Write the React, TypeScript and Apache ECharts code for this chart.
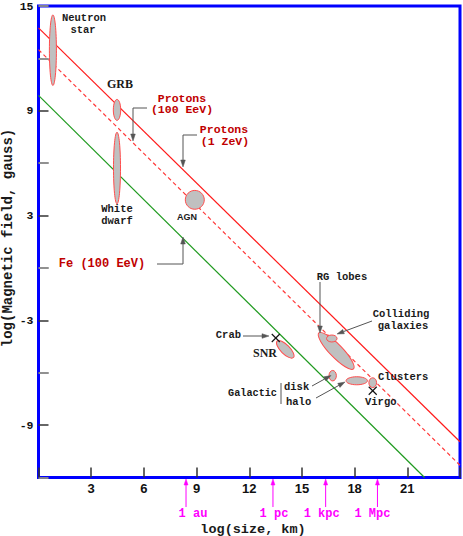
import React, { useEffect, useRef } from "react";
import * as echarts from "echarts";

// ---- data ----
const xTickValues = [3, 6, 9, 12, 15, 18, 21];
const yLabelValues = [15, 9, 3, -3, -9];
// straight acceleration limits: [x0, y0], [x1, y1] in (log size km, log B gauss)
const protons1ZeV = [[0, 13.75], [24, -9.95]];
const protons100EeV = [[0, 12.5], [24, -11.3]];
const iron100EeV = [[0, 9.88], [21.98, -12]];
// objects: [x, y, semiX, semiY, tiltDeg]
const objectNames = ["Neutron star", "GRB", "White dwarf", "AGN", "SNR", "RG lobes", "Colliding galaxies", "Galactic disk", "Galactic halo", "Clusters"];
const objectX = [0.82, 4.47, 4.47, 8.9, 14.05, 16.95, 16.7, 16.75, 18.12, 19.03];
const objectY = [12.47, 9.05, 5.72, 3.9, -4.66, -4.75, -4.04, -6.17, -6.46, -6.57];
const objectSemiX = [0.2, 0.21, 0.2, 0.54, 0.66, 1.42, 0.3, 0.21, 0.61, 0.22];
const objectSemiY = [2.02, 0.6, 2.05, 0.54, 0.26, 0.37, 0.2, 0.3, 0.23, 0.28];
const objectTilt = [0, 0, 0, 0, -45, -46, 0, 0, 0, 0];
// crosses: Crab, Virgo
const crossNames = ["Crab", "Virgo"];
const crossX = [13.51, 19.03];
const crossY = [-4.01, -7.03];
// distance marks on size axis
const distanceLabels = ["1 au", "1 pc", "1 kpc", "1 Mpc"];
const distanceValues = [8.4, 13.35, 16.35, 19.3];

const MONO = '"Liberation Mono", "DejaVu Sans Mono", monospace';
const SERIF = '"Liberation Serif", "DejaVu Serif", serif';
const SANS = '"Liberation Sans", "DejaVu Sans", sans-serif';
const RED_TEXT = "#c00000";
const GRAY = "#555555";
const MAGENTA = "#ff00ff";

function txt(text: string, x: number, y: number, o: any = {}) {
  return {
    type: "text",
    x,
    y,
    rotation: o.rotation || 0,
    z: 100,
    style: {
      text,
      fill: o.fill || "#1a1a1a",
      font: `${o.weight || "bold"} ${o.size || 10.5}px ${o.family || MONO}`,
      align: o.align || "center",
      textAlign: o.align || "center",
      verticalAlign: "middle",
      textVerticalAlign: "middle",
    },
  };
}

function arrow(points: number[][], color = GRAY, head = 7, half = 2.3) {
  const n = points.length;
  const tip = points[n - 1];
  const prev = points[n - 2];
  const dx = tip[0] - prev[0];
  const dy = tip[1] - prev[1];
  const L = Math.hypot(dx, dy);
  const ux = dx / L, uy = dy / L;
  const bx = tip[0] - ux * head, by = tip[1] - uy * head;
  const pts = points.slice(0, n - 1).concat([[bx, by]]);
  return [
    { type: "polyline", z: 100, shape: { points: pts }, style: { stroke: color, lineWidth: 1, fill: null } },
    {
      type: "polygon",
      z: 100,
      shape: { points: [tip, [bx - uy * half, by + ux * half], [bx + uy * half, by - ux * half]] },
      style: { fill: color, stroke: color, lineWidth: 0.5 },
    },
  ];
}

export default function App() {
  const ref = useRef<HTMLDivElement>(null);
  useEffect(() => {
    document.body.style.margin = "0";
    const chart = echarts.init(ref.current!, null, { renderer: "svg" });
    const objData = objectNames.map((n, i) => [objectX[i], objectY[i], objectSemiX[i], objectSemiY[i], objectTilt[i], n]);
    const crossData = crossNames.map((n, i) => [crossX[i], crossY[i], n]);
    const option: any = {
      animation: false,
      grid: { left: 38.5, right: 2.5, top: 3, bottom: 58.5, show: true, borderColor: "#0000ff", borderWidth: 3, backgroundColor: "#fff" },
      xAxis: {
        type: "value",
        min: 0,
        max: 24,
        interval: 3,
        axisLine: { show: false, onZero: false },
        axisTick: { show: true, inside: true, length: 10, lineStyle: { color: "#333", width: 1.5 } },
        splitLine: { show: false },
        axisLabel: {
          margin: 4,
          color: "#111",
          fontFamily: SANS,
          fontWeight: "bold",
          fontSize: 13,
          formatter: (v: number) => (xTickValues.includes(v) ? String(v) : ""),
        },
      },
      yAxis: [
        {
          type: "value",
          min: -12,
          max: 15,
          interval: 3,
          axisLine: { show: false, onZero: false },
          axisTick: { show: true, inside: true, length: 10, lineStyle: { color: "#333", width: 1.5 } },
          splitLine: { show: false },
          axisLabel: {
            margin: 5,
            color: "#111",
            fontFamily: MONO,
            fontWeight: "bold",
            fontSize: 11.5,
            formatter: (v: number) => (yLabelValues.includes(v) ? (v < 0 ? "-" + Math.abs(v) : String(v)) : ""),
          },
        },
        {
          type: "value",
          min: -12,
          max: 15,
          interval: 6,
          position: "left",
          axisLine: { show: false, onZero: false },
          axisTick: { show: true, inside: true, length: 10, lineStyle: { color: "#a0a0a0", width: 1.5 } },
          splitLine: { show: false },
          axisLabel: { show: false },
        },
      ],
      series: [
        { type: "line", data: protons1ZeV, showSymbol: false, lineStyle: { color: "#ff1a1a", width: 1.2 }, z: 2 },
        { type: "line", data: protons100EeV, showSymbol: false, lineStyle: { color: "#ff3a3a", width: 1.2, type: [4, 3] }, z: 2 },
        { type: "line", data: iron100EeV, showSymbol: false, lineStyle: { color: "#1f9a1f", width: 1.2 }, z: 2 },
        {
          type: "custom",
          z: 5,
          data: objData,
          renderItem: (params: any, api: any) => {
            const c = api.coord([api.value(0), api.value(1)]);
            const sx = api.size([1, 1]);
            const rx = api.value(2) * sx[0];
            const ry = api.value(3) * sx[1];
            return {
              type: "ellipse",
              x: c[0],
              y: c[1],
              rotation: (api.value(4) * Math.PI) / 180,
              shape: { cx: 0, cy: 0, rx, ry },
              style: { fill: "#c0c0c0", stroke: "#ff4d4d", lineWidth: 1 },
            };
          },
        },
        {
          type: "custom",
          z: 6,
          data: crossData,
          renderItem: (params: any, api: any) => {
            const c = api.coord([api.value(0), api.value(1)]);
            const h = 4;
            return {
              type: "group",
              children: [
                { type: "line", shape: { x1: c[0] - h, y1: c[1] - h, x2: c[0] + h, y2: c[1] + h }, style: { stroke: "#111", lineWidth: 1.2 } },
                { type: "line", shape: { x1: c[0] + h, y1: c[1] - h, x2: c[0] - h, y2: c[1] + h }, style: { stroke: "#111", lineWidth: 1.2 } },
              ],
            };
          },
        },
      ],
    };
    chart.setOption(option);

    const graphics: any[] = [];
    // object & line labels
    graphics.push(txt("Neutron", 84, 18));
    graphics.push(txt("star", 83, 29.5));
    graphics.push(txt("GRB", 120, 84, { family: SERIF, size: 12 }));
    graphics.push(txt("Protons", 182, 98, { fill: RED_TEXT, size: 11.5 }));
    graphics.push(txt("(100 EeV)", 182, 109.5, { fill: RED_TEXT, size: 11.5 }));
    graphics.push(txt("Protons", 224, 129.5, { fill: RED_TEXT, size: 11.5 }));
    graphics.push(txt("(1 ZeV)", 225, 141, { fill: RED_TEXT, size: 11.5 }));
    graphics.push(txt("White", 117, 209));
    graphics.push(txt("dwarf", 117, 221));
    graphics.push(txt("AGN", 187, 217, { family: SANS, size: 9 }));
    graphics.push(txt("Fe (100 EeV)", 102, 264, { fill: RED_TEXT, size: 12 }));
    graphics.push(txt("Crab", 241, 335, { align: "right" }));
    graphics.push(txt("SNR", 265, 353, { family: SERIF, size: 12 }));
    graphics.push(txt("RG lobes", 342, 277));
    graphics.push(txt("Colliding", 401, 314));
    graphics.push(txt("galaxies", 403, 325.5));
    graphics.push(txt("Galactic", 277, 393, { align: "right", size: 10.2 }));
    graphics.push(txt("disk", 284, 387, { align: "left" }));
    graphics.push(txt("halo", 286, 402, { align: "left" }));
    graphics.push(txt("Clusters", 378, 377, { align: "left" }));
    graphics.push(txt("Virgo", 365, 402, { align: "left" }));
    graphics.push({ type: "line", z: 100, shape: { x1: 281, y1: 383, x2: 281, y2: 404 }, style: { stroke: GRAY, lineWidth: 1 } });
    // annotation arrows
    graphics.push(...arrow([[147, 108], [133, 108], [133, 141]]));
    graphics.push(...arrow([[197, 135], [183, 135], [183, 167]]));
    graphics.push(...arrow([[157, 264], [183, 264], [183, 237]]));
    graphics.push(...arrow([[243, 336], [269, 336]]));
    graphics.push(...arrow([[320, 282], [320, 333]]));
    graphics.push(...arrow([[372, 321], [337, 334]]));
    graphics.push(...arrow([[312, 386], [331, 375.5]]));
    graphics.push(...arrow([[316, 398], [345, 382]]));
    // distance marks below the size axis
    const labelShift = [7, 1, -4, -5];
    distanceValues.forEach((v, i) => {
      const px = chart.convertToPixel({ xAxisIndex: 0 }, v) as number;
      graphics.push(...arrow([[px, 507], [px, 479]], MAGENTA, 6, 2));
      graphics.push(txt(distanceLabels[i], px + labelShift[i], 514, { fill: MAGENTA, size: 12 }));
    });
    // axis names
    graphics.push(txt("log(size, km)", 253, 529, { size: 13.5 }));
    graphics.push(txt("log(Magnetic field, gauss)", 8, 238, { size: 14, rotation: Math.PI / 2 }));

    chart.setOption({ graphic: graphics });
    return () => chart.dispose();
  }, []);
  return <div ref={ref} style={{ position: "absolute", left: 0, top: 0, width: 463, height: 536 }} />;
}
